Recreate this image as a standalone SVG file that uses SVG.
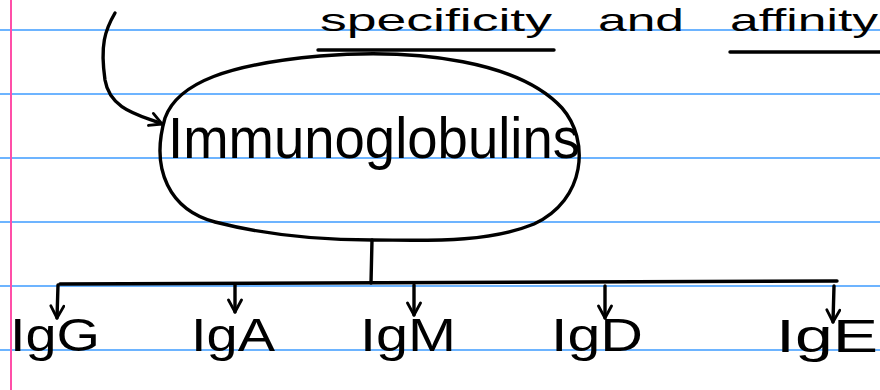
<svg xmlns="http://www.w3.org/2000/svg" width="880" height="390" viewBox="0 0 880 390">
<style>
.rule{stroke:#3d9bff;stroke-width:1.5}
.ink{fill:none;stroke:#000;stroke-width:3.4;stroke-linecap:round;stroke-linejoin:round}
.txt{font-family:"Liberation Sans",Arial,sans-serif;fill:#000}
</style>
<defs>
<marker id="ah" viewBox="0 0 16 16" refX="14" refY="8" markerWidth="16" markerHeight="16" markerUnits="userSpaceOnUse" orient="auto">
<path d="M2,1.5 L14,8 L2,14.5" fill="none" stroke="#000" stroke-width="2.8" stroke-linecap="round" stroke-linejoin="round"/>
</marker>
</defs>
<rect width="880" height="390" fill="#fff"/>
<g id="paper">
<line class="rule" x1="0" y1="30" x2="880" y2="30"/>
<line class="rule" x1="0" y1="94" x2="880" y2="94"/>
<line class="rule" x1="0" y1="158" x2="880" y2="158"/>
<line class="rule" x1="0" y1="222" x2="880" y2="222"/>
<line class="rule" x1="0" y1="286" x2="880" y2="286"/>
<line class="rule" x1="0" y1="350" x2="880" y2="350"/>
<line x1="11" y1="0" x2="11" y2="390" stroke="#ff4fa8" stroke-width="2"/>
</g>
<g id="heading">
<text class="txt" x="320" y="31" font-size="32" textLength="232" lengthAdjust="spacingAndGlyphs">specificity</text>
<text class="txt" x="598" y="31" font-size="32" textLength="86" lengthAdjust="spacingAndGlyphs">and</text>
<text class="txt" x="730" y="31" font-size="32" textLength="148" lengthAdjust="spacingAndGlyphs">affinity</text>
<line class="ink" x1="318" y1="50" x2="554" y2="50"/>
<line class="ink" x1="730" y1="52" x2="880" y2="52"/>
</g>
<g id="immunoglobulins">
<path class="ink" d="M165,118 C178,82 230,64 320,56 C420,48 520,62 562,108 C590,140 586,200 534,224 C485,244 420,240 372,240 C330,240 270,236 215,222 C170,210 150,170 165,118 Z"/>
<text class="txt" x="168" y="158" font-size="58" textLength="412" lengthAdjust="spacingAndGlyphs">Immunoglobulins</text>
</g>
<g id="connectors">
<path class="ink" d="M115,13 C105,30 100,45 105,80 C110,110 140,115 162,124" marker-end="url(#ah)"/>
<line class="ink" x1="372" y1="240" x2="371" y2="283"/>
<line class="ink" x1="60" y1="284" x2="837" y2="281"/>
<line class="ink" x1="58" y1="285" x2="57" y2="318" marker-end="url(#ah)"/>
<line class="ink" x1="235" y1="285" x2="235" y2="312" marker-end="url(#ah)"/>
<line class="ink" x1="414" y1="285" x2="414" y2="315" marker-end="url(#ah)"/>
<line class="ink" x1="605" y1="286" x2="605" y2="318" marker-end="url(#ah)"/>
<line class="ink" x1="834" y1="286" x2="833" y2="322" marker-end="url(#ah)"/>
</g>
<g id="IgG"><text class="txt" x="10" y="351" font-size="46" textLength="90" lengthAdjust="spacingAndGlyphs">IgG</text></g>
<g id="IgA"><text class="txt" x="191" y="351" font-size="46" textLength="84" lengthAdjust="spacingAndGlyphs">IgA</text></g>
<g id="IgM"><text class="txt" x="360" y="351" font-size="46" textLength="96" lengthAdjust="spacingAndGlyphs">IgM</text></g>
<g id="IgD"><text class="txt" x="551" y="351" font-size="46" textLength="92" lengthAdjust="spacingAndGlyphs">IgD</text></g>
<g id="IgE"><text class="txt" x="776" y="352" font-size="46" textLength="102" lengthAdjust="spacingAndGlyphs">IgE</text></g>
</svg>
